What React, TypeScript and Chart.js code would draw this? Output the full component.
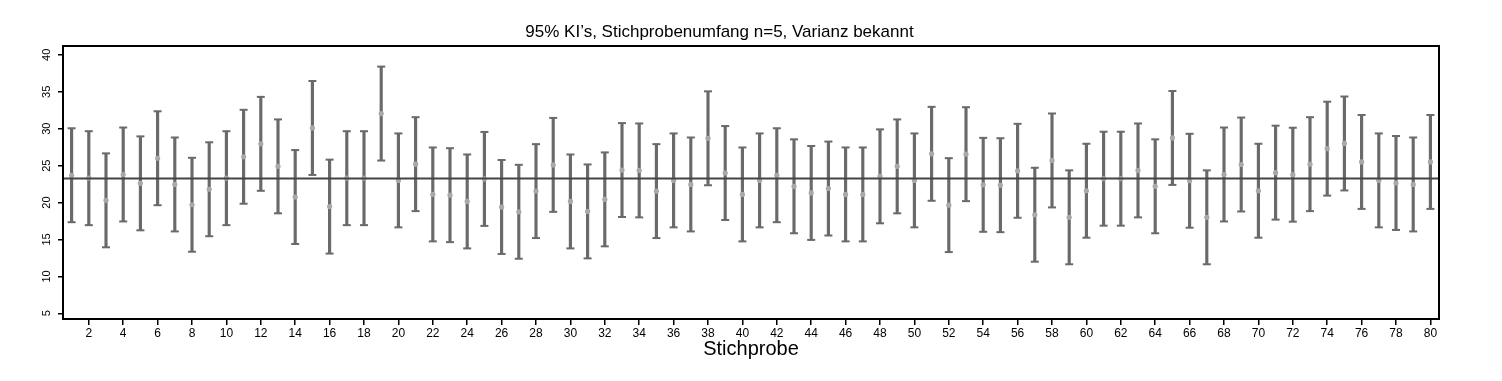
import React, { useEffect, useRef } from "react";
import { Chart, registerables } from "chart.js";

Chart.register(...registerables);

const TITLE = "95% KI’s, Stichprobenumfang n=5, Varianz bekannt";
const X_LABEL = "Stichprobe";

const SAMPLES: number[] = Array.from({ length: 80 }, (_, i) => i + 1);
const MEANS: number[] = [
  23.7, 23.3, 20.3, 23.8, 22.6, 26.0, 22.45, 19.7, 21.8, 23.3,
  26.2, 27.95, 24.9, 20.75, 30.1, 19.45, 23.3, 23.3, 32.05, 23.0,
  25.2, 21.1, 21.0, 20.15, 23.2, 19.4, 18.75, 21.55, 25.1, 20.15,
  18.8, 20.43, 24.4, 24.35, 21.55, 23.0, 22.45, 28.7, 24.0, 21.1,
  23.0, 23.7, 22.2, 21.3, 21.9, 21.1, 21.1, 23.55, 24.9, 23.0,
  26.6, 19.65, 26.55, 22.4, 22.35, 24.3, 18.35, 25.7, 18.0, 21.6,
  23.23, 23.23, 24.35, 22.2, 28.75, 22.95, 18.0, 23.8, 25.15, 21.6,
  24.05, 23.77, 25.2, 27.3, 28.0, 25.5, 23.0, 22.65, 22.45, 25.5,
];
const HALF_WIDTH = 6.36;
const TRUE_MEAN = 23.24;

const X_TICKS: number[] = Array.from({ length: 40 }, (_, i) => (i + 1) * 2);
const Y_TICKS: number[] = [5, 10, 15, 20, 25, 30, 35, 40];

const BAR_COLOR = "#6a6a6a";
const FONT = "'Liberation Sans', Arial, sans-serif";

const framePlugin = {
  id: "frame",
  afterDraw(chart: any) {
    const { ctx, chartArea } = chart;
    ctx.save();
    ctx.strokeStyle = "#000";
    ctx.lineWidth = 2;
    ctx.strokeRect(chartArea.left, chartArea.top, chartArea.right - chartArea.left, chartArea.bottom - chartArea.top);
    ctx.restore();
  },
};

export default function App() {
  const ref = useRef<HTMLCanvasElement | null>(null);
  useEffect(() => {
    document.body.style.margin = "0";
    const lower = MEANS.map((m) => m - HALF_WIDTH);
    const upper = MEANS.map((m) => m + HALF_WIDTH);
    const chart = new Chart(ref.current as HTMLCanvasElement, {
      type: "bar",
      data: {
        datasets: [
          {
            type: "line",
            data: [
              { x: 0.5, y: TRUE_MEAN },
              { x: 80.5, y: TRUE_MEAN },
            ],
            borderColor: "#444",
            borderWidth: 2,
            pointRadius: 0,
            order: 0,
          },
          {
            type: "bar",
            data: SAMPLES.map((s, i) => ({ x: s, y: [lower[i], upper[i]] })),
            backgroundColor: BAR_COLOR,
            borderWidth: 0,
            barThickness: 2.5,
            order: 3,
          },
          {
            type: "scatter",
            data: SAMPLES.map((s, i) => ({ x: s, y: upper[i] })),
            pointStyle: "line",
            pointRadius: 4,
            borderColor: BAR_COLOR,
            borderWidth: 2,
            order: 2,
          },
          {
            type: "scatter",
            data: SAMPLES.map((s, i) => ({ x: s, y: lower[i] })),
            pointStyle: "line",
            pointRadius: 4,
            borderColor: BAR_COLOR,
            borderWidth: 2,
            order: 2,
          },
          {
            type: "scatter",
            data: SAMPLES.map((s, i) => ({ x: s, y: MEANS[i] })),
            pointStyle: "circle",
            pointRadius: 2.6,
            backgroundColor: "#a9a9a9",
            borderWidth: 0,
            order: 1,
          },
        ] as any,
      },
      options: {
        animation: false,
        responsive: false,
        layout: { padding: { left: 0, right: 63, top: 0, bottom: 0 } },
        plugins: {
          legend: { display: false },
          tooltip: { enabled: false },
          title: {
            display: true,
            text: TITLE,
            color: "#000",
            font: { family: FONT, size: 17, weight: "normal" },
            padding: { top: 22, bottom: 3.6 },
          },
        },
        scales: {
          x: {
            type: "linear",
            min: 0.5,
            max: 80.5,
            offset: false,
            afterBuildTicks: (scale: any) => {
              scale.ticks = X_TICKS.map((v) => ({ value: v }));
            },
            afterFit: (scale: any) => {
              scale.height = 62;
            },
            ticks: {
              autoSkip: false,
              maxRotation: 0,
              color: "#000",
              padding: 1,
              font: { family: FONT, size: 12 },
            },
            grid: { offset: false, drawOnChartArea: false, drawTicks: true, tickLength: 6, color: "#000", lineWidth: 1.5 },
            border: { display: false },
            title: {
              display: true,
              text: X_LABEL,
              color: "#000",
              font: { family: FONT, size: 20 },
              padding: { top: 0, bottom: 20 },
            },
          },
          y: {
            type: "linear",
            min: 4.23,
            max: 41.2,
            afterBuildTicks: (scale: any) => {
              scale.ticks = Y_TICKS.map((v) => ({ value: v }));
            },
            afterFit: (scale: any) => {
              scale.width = 63;
            },
            ticks: {
              minRotation: 90,
              maxRotation: 90,
              crossAlign: "center",
              color: "#000",
              padding: 5,
              font: { family: FONT, size: 11 },
            },
            grid: { drawOnChartArea: false, drawTicks: true, tickLength: 5, color: "#000", lineWidth: 1.5 },
            border: { display: false },
          },
        },
      } as any,
      plugins: [framePlugin],
    });
    return () => chart.destroy();
  }, []);
  return (
    <div style={{ width: 1502, height: 381 }}>
      <canvas ref={ref} width={1502} height={381} />
    </div>
  );
}
